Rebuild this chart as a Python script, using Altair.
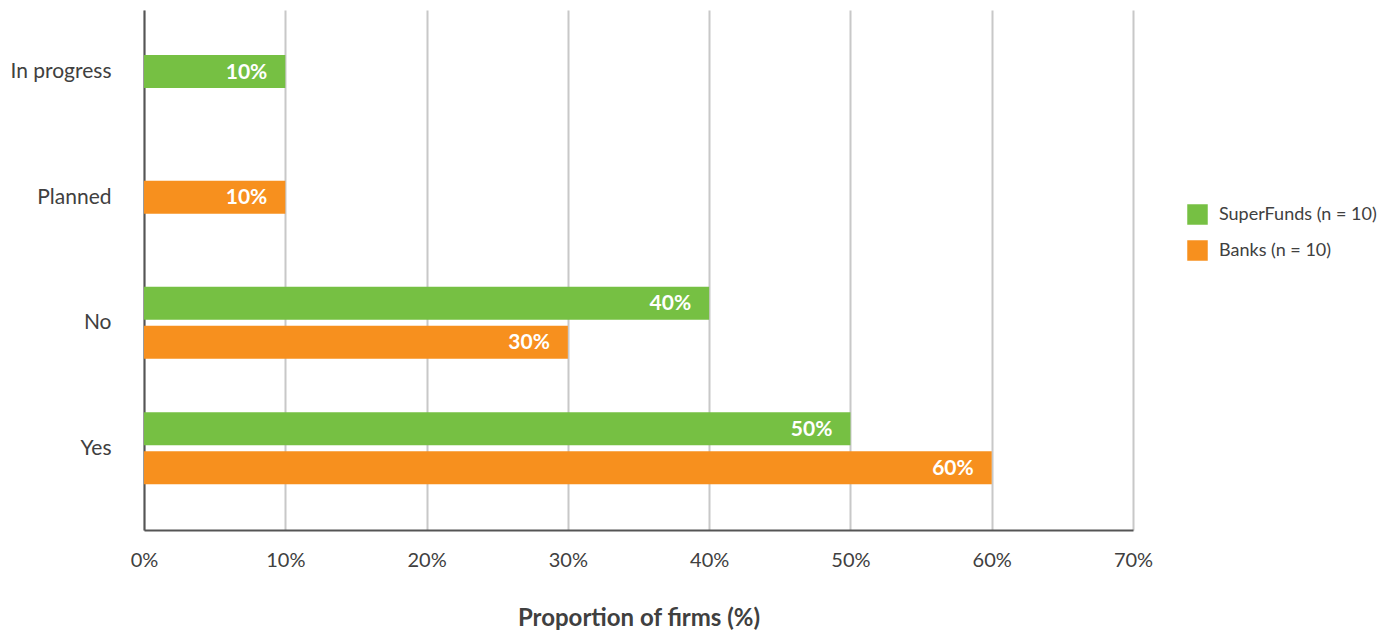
import altair as alt
import pandas as pd

categories = ["In progress", "Planned", "No", "Yes"]
series = ["SuperFunds (n = 10)", "Banks (n = 10)"]
colors = ["#76C043", "#F7901E"]
# values per category per series (None = not shown)
superfunds = [10, None, 40, 50]
banks = [None, 10, 30, 60]
x_ticks = [0, 10, 20, 30, 40, 50, 60, 70]

rows = []
for i, cat in enumerate(categories):
    present = [(s, v) for s, v in zip(series, [superfunds[i], banks[i]]) if v is not None]
    n = len(present)
    for k, (s, v) in enumerate(present):
        rows.append({"category": cat, "series": s, "value": v,
                     "pos": i + (k - (n - 1) / 2) * 0.31})
df = pd.DataFrame(rows)

FONT = "Lato"
TXT = "#404040"

label_expr = "[" + ",".join("'" + c + "'" for c in categories) + "][datum.value]"

y_enc = alt.Y("pos:Q",
              scale=alt.Scale(domain=[-0.451, 3.611], reverse=True, nice=False, zero=False),
              axis=alt.Axis(values=list(range(len(categories))), labelExpr=label_expr,
                            grid=False, ticks=False, title=None,
                            domainColor="#555555", domainWidth=2,
                            labelFontSize=21, labelColor=TXT, labelFont=FONT,
                            labelPadding=33))

x_enc = alt.X("value:Q",
              scale=alt.Scale(domain=[0, 70], nice=False),
              axis=alt.Axis(values=x_ticks, labelExpr="datum.value + '%'",
                            labelFlush=False,
                            title="Proportion of firms (%)",
                            titleFontSize=24, titleFontWeight="bold", titleColor=TXT,
                            titleFont=FONT, titlePadding=36,
                            grid=True, gridColor="#c8c8c8", gridWidth=2,
                            ticks=False, domainColor="#555555", domainWidth=2,
                            labelFontSize=20, labelColor=TXT, labelFont=FONT,
                            labelPadding=20))

bars = alt.Chart(df).mark_bar(orient="horizontal", size=33).encode(
    x=x_enc,
    y=y_enc,
    color=alt.Color("series:N",
                    scale=alt.Scale(domain=series, range=colors),
                    legend=alt.Legend(title=None, orient="none", legendX=1043, legendY=194,
                                      symbolType="square", symbolSize=420,
                                      symbolStrokeWidth=0,
                                      labelFontSize=18, labelColor=TXT, labelFont=FONT,
                                      rowPadding=15, labelOffset=11)),
)

labels = alt.Chart(df).mark_text(align="right", baseline="middle", dx=-18, dy=1,
                                 color="white", fontWeight="bold", fontSize=21,
                                 font=FONT).encode(
    x=alt.X("value:Q"),
    y=alt.Y("pos:Q"),
    text=alt.Text("label:N"),
).transform_calculate(label="datum.value + '%'")

chart = (bars + labels).properties(
    width=989, height=520,
    autosize=alt.AutoSizeParams(type="none"),
    padding={"left": 144, "top": 10, "right": 264, "bottom": 105},
).configure_view(stroke=None)

chart.save("out.html", embed_options={"renderer": "svg", "actions": False})
